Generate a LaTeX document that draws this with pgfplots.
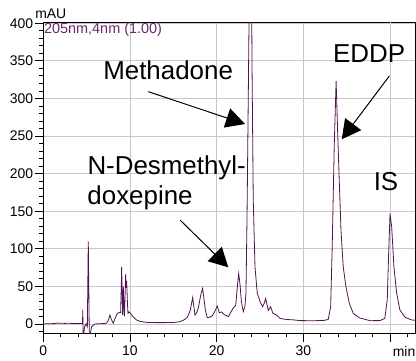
\documentclass[border=0pt]{standalone}
\usepackage{fontspec}
\setmainfont{Liberation Sans}
\usepackage{pgfplots}
\pgfplotsset{compat=1.18}
\usetikzlibrary{arrows.meta}
\definecolor{trace}{RGB}{80,20,80}
\definecolor{lbl}{RGB}{110,40,110}
\definecolor{gridc}{RGB}{200,200,200}
\begin{document}
\begin{tikzpicture}
\begin{axis}[
  name=ax, at={(0,0)}, anchor=south west,
  scale only axis, width=371.7bp, height=311bp,
  xmin=0, xmax=42.88, ymin=-12.4, ymax=401.3,
  xtick={0,10,20,30},
  extra x ticks={40}, extra x tick labels={\phantom{0}},
  extra x tick style={grid=major},
  ytick={0,50,...,400},
  minor xtick={0,2,...,42}, minor ytick={-10,0,...,400},
  tick align=outside, tick pos=left,
  major tick length=8.5bp, minor tick length=4bp,
  grid=major, major grid style={draw=gridc, line width=0.8bp},
  axis line style={line width=0.9bp},
  every tick/.style={black, line width=0.8bp},
  ticklabel style={font=\fontsize{14}{16}\selectfont},
  /pgf/number format/assume math mode=true,
  yticklabel style={inner sep=1.5bp},
]
\addplot[trace, line width=0.8bp] coordinates {
(0,0) (0.5,0.3) (1.3,0.5) (1.6,1.2) (2.0,1.0) (2.5,0.8) (3.0,1.0) (3.5,0.6) (4.0,0.8) (4.53,0.5)
(4.55,19) (4.60,-20) (4.76,-3.5) (4.93,0) (5.08,-4) (5.19,110) (5.31,-20) (5.58,-3.5) (5.96,0)
(6.8,0.5) (7.3,1) (7.5,5) (7.69,12) (7.85,6) (8.07,1) (8.3,8) (8.54,14) (8.8,15.5) (8.92,15)
(9.0,50) (9.04,76) (9.10,40) (9.15,12) (9.23,50) (9.30,20) (9.36,10) (9.50,66) (9.56,48) (9.62,57)
(9.70,30) (9.77,14) (9.9,16) (10.0,15) (10.4,9) (10.8,5) (11.15,3.5) (12.0,2) (13.0,1.8) (14.0,1.8)
(15.0,2) (15.77,3) (16.2,5.3) (16.6,8.5) (16.95,18) (17.23,35) (17.5,12) (17.7,15) (17.9,22)
(18.15,38) (18.38,47.4) (18.55,32) (18.7,18) (18.92,8.5) (19.2,9) (19.5,11) (19.8,17) (20.07,24)
(20.3,15) (20.6,16) (20.9,12) (21.1,11.5) (21.34,9.7) (21.6,15) (21.9,21) (22.2,25) (22.35,45)
(22.54,67) (22.7,52) (22.85,30) (23.07,16.4) (23.26,23) (23.38,41) (23.5,140) (23.6,250)
(23.72,386) (23.76,420) (23.9,700) (24.04,420) (24.08,342) (24.22,165) (24.42,76) (24.68,41)
(25.0,30) (25.3,23) (25.5,28) (25.65,34) (25.8,26) (25.96,18) (26.22,23) (26.5,14) (26.9,12)
(27.3,7.5) (28.0,6) (28.8,5.5) (29.6,4.5) (30.5,4.4) (31.5,4.4) (32.4,4.8) (32.87,6) (33.15,23)
(33.33,103) (33.56,236) (33.78,323) (33.95,258) (34.14,191) (34.34,125) (34.6,76) (34.91,50)
(35.3,27.5) (35.76,14) (36.5,8) (37.7,4.4) (38.85,4.5) (39.4,7.5) (39.68,32) (39.84,94) (40.0,147)
(40.19,129) (40.45,76) (40.76,41) (41.14,18.6) (41.72,9) (42.49,5.3) (42.88,5)
};
\node[anchor=base west, inner sep=0, text=lbl, font=\fontsize{14.5}{16}\selectfont] at (axis cs:0.06,386.7) {205nm,4nm (1.00)};
\node[anchor=base west, inner sep=0, font=\fontsize{26}{30}\selectfont] at (axis cs:6.9,325.5) {Methadone};
\node[anchor=base west, inner sep=0, font=\fontsize{26}{30}\selectfont] at (axis cs:5.08,198.2) {N-Desmethyl-};
\node[anchor=base west, inner sep=0, font=\fontsize{26}{30}\selectfont] at (axis cs:5.07,158.3) {doxepine};
\node[anchor=base west, inner sep=0, font=\fontsize{26}{30}\selectfont] at (axis cs:33.42,347.6) {EDDP};
\node[anchor=base west, inner sep=0, font=\fontsize{26}{30}\selectfont] at (axis cs:38.1,176.9) {IS};
\draw[line width=1bp, -{Triangle[length=19bp,width=20bp]}] (axis cs:12.11,309.0) -- (axis cs:23.27,266.0);
\draw[line width=1bp, -{Triangle[length=19bp,width=20bp]}] (axis cs:39.92,329.9) -- (axis cs:34.43,245.7);
\draw[line width=1bp, -{Triangle[length=19bp,width=20bp]}] (axis cs:15.77,138.3) -- (axis cs:21.34,75.4);
\end{axis}
\node[anchor=base west, inner sep=0, xshift=-8.2bp, yshift=4bp, font=\fontsize{14}{16}\selectfont] at (ax.north west) {mAU};
\node[anchor=base east, inner sep=0, xshift=0.5bp, yshift=-22.7bp, font=\fontsize{14}{16}\selectfont] at (ax.south east) {min};
\pgfresetboundingbox
\path (-43.3bp,-27.7bp) rectangle (372.7bp,333.3bp);
\end{tikzpicture}
\end{document}
